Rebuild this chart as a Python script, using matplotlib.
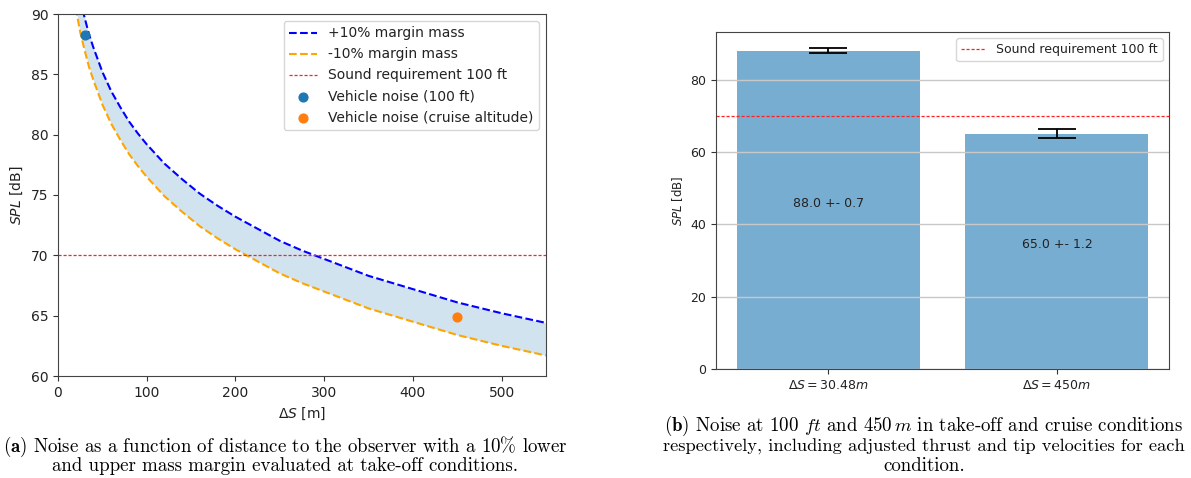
import matplotlib
matplotlib.use("Agg")
import matplotlib.pyplot as plt
import numpy as np

plt.rcParams["mathtext.fontset"] = "dejavusans"

# --- Panel (a): SPL versus distance for +/-10% mass margin ---
distance_m = [20, 25, 30, 35, 40, 50, 60, 70, 80, 90, 100, 120, 140, 160, 180,
              200, 225, 250, 275, 300, 350, 400, 450, 500, 550]
spl_plus10 = [93.2, 91.2, 89.7, 88.3, 87.2, 85.2, 83.6, 82.3, 81.1, 80.1, 79.2,
              77.6, 76.3, 75.1, 74.1, 73.2, 72.2, 71.2, 70.4, 69.7, 68.3, 67.2,
              66.1, 65.2, 64.4]
spl_minus10 = [90.5, 88.5, 87.0, 85.6, 84.5, 82.5, 80.9, 79.6, 78.4, 77.4, 76.5,
               74.9, 73.6, 72.4, 71.4, 70.5, 69.5, 68.5, 67.7, 67.0, 65.6, 64.5,
               63.4, 62.5, 61.7]
requirement_db = 70
takeoff_point = (30.48, 88.3)
cruise_point = (450, 64.9)

# --- Panel (b): SPL at take-off and cruise distances ---
bar_labels = [r"$\Delta S = 30.48m$", r"$\Delta S = 450m$"]
bar_spl = [88.0, 65.0]
bar_err = [0.7, 1.2]

REQ_STYLE = dict(color="#ff2020", ls=(0, (2.5, 1.5)), lw=0.9)

fig = plt.figure(figsize=(11.91, 4.78), dpi=100)

# Left panel
ax1 = fig.add_axes([58 / 1191, 1 - 376 / 478, 488 / 1191, 362 / 478])
ax1.fill_between(distance_m, spl_minus10, spl_plus10, color="#1f77b4",
                 alpha=0.2, linewidth=0)
ax1.plot(distance_m, spl_plus10, "--", color="blue", lw=1.5,
         label="+10% margin mass")
ax1.plot(distance_m, spl_minus10, "--", color="orange", lw=1.5,
         label="-10% margin mass")
ax1.axhline(requirement_db, label="Sound requirement 100 ft", **REQ_STYLE)
ax1.scatter([takeoff_point[0]], [takeoff_point[1]], color="#1f77b4", s=40,
            zorder=3, label="Vehicle noise (100 ft)")
ax1.scatter([cruise_point[0]], [cruise_point[1]], color="#ff7f0e", s=40,
            zorder=3, label="Vehicle noise (cruise altitude)")
ax1.set_xlim(0, 550)
ax1.set_ylim(60, 90)
ax1.set_xticks([0, 100, 200, 300, 400, 500])
ax1.set_yticks([60, 65, 70, 75, 80, 85, 90])
ax1.tick_params(labelsize=10, colors="#333333", labelcolor="#222222")
ax1.set_xlabel(r"$\Delta S$ [m]", fontsize=10, color="#222222")
ax1.set_ylabel(r"$SPL$ [dB]", fontsize=10, color="#222222")
for sp in ax1.spines.values():
    sp.set_color("#444444")
ax1.legend(loc="upper right", fontsize=10, labelcolor="#222222")

# Right panel
ax2 = fig.add_axes([716 / 1191, 1 - 369 / 478, 453 / 1191, 337 / 478])
xpos = np.arange(len(bar_spl))
ax2.grid(axis="y", color="#c8c8c8", lw=1.0)
ax2.bar(xpos, bar_spl, width=0.8, color="#1f77b4", alpha=0.6)
ax2.errorbar(xpos, bar_spl, yerr=bar_err, fmt="none", ecolor="black",
             capsize=14, elinewidth=1.3, capthick=1.3)
ax2.axhline(requirement_db, label="Sound requirement 100 ft", **REQ_STYLE)
for x, v, e in zip(xpos, bar_spl, bar_err):
    ax2.text(x, v / 2, f"{v:.1f} +- {e}", ha="center", va="bottom",
             fontsize=9, color="#222222")
ax2.set_xticks(xpos)
ax2.set_xticklabels(bar_labels)
ax2.set_yticks([0, 20, 40, 60, 80])
ax2.tick_params(labelsize=9, colors="#333333", labelcolor="#222222")
ax2.set_ylabel(r"$SPL$ [dB]", fontsize=8.5, color="#222222")
for sp in ax2.spines.values():
    sp.set_color("#444444")
ax2.legend(loc="upper right", fontsize=9, labelcolor="#222222")

# Captions
cap_kw = dict(family="cmr10", ha="center", va="center", math_fontfamily="cm")
fig.text(285 / 1191, 1 - 447 / 478,
         r"$\mathbf{(a)}$ Noise as a function of distance to the observer with a 10% lower",
         fontsize=13.6, **cap_kw)
fig.text(285 / 1191, 1 - 466 / 478,
         "and upper mass margin evaluated at take-off conditions.",
         fontsize=13.6, **cap_kw)
fig.text(924 / 1191, 1 - 426 / 478,
         r"$\mathbf{(b)}$ Noise at 100 $ft$ and 450$\,m$ in take-off and cruise conditions",
         fontsize=13.6, **cap_kw)
fig.text(924 / 1191, 1 - 447 / 478,
         "respectively, including adjusted thrust and tip velocities for each",
         fontsize=13.25, **cap_kw)
fig.text(924 / 1191, 1 - 466 / 478, "condition.", fontsize=13.6, **cap_kw)

fig.savefig("out.png", dpi=100)
